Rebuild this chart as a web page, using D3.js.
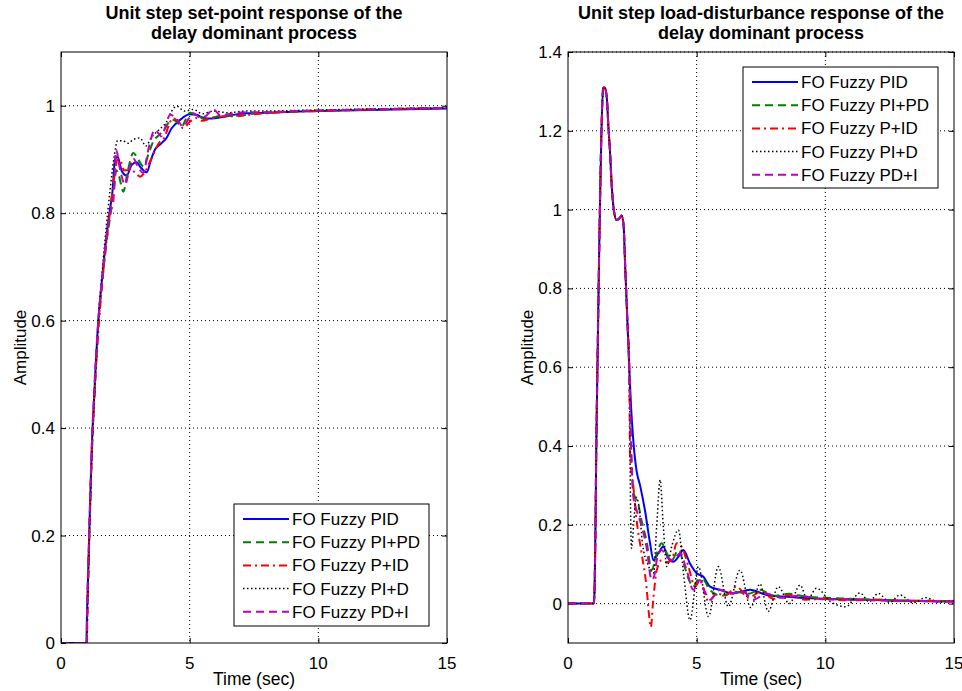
<!DOCTYPE html>

<head>
  <meta charset="utf-8">
  <title>Delay dominant process responses</title>
  <style>
    body {
      margin: 0;
      background: #fff;
    }

    text {
      font-family: "Liberation Sans", Arial, sans-serif;
      fill: #000;
    }
  </style>
</head>

<body>
  <div id="viz"></div>

  <script src="https://d3js.org/d3.v7.min.js"></script>

  <script>
    // legend names
    let seriesNames = ['FO Fuzzy PID', 'FO Fuzzy PI+PD', 'FO Fuzzy P+ID', 'FO Fuzzy PI+D', 'FO Fuzzy PD+I'];

    let xTicks = [0, 5, 10, 15];
    let yTicksLeft = [0, 0.2, 0.4, 0.6, 0.8, 1];
    let yTicksRight = [0, 0.2, 0.4, 0.6, 0.8, 1, 1.2, 1.4];

    // set-point response, [time, amplitude]
    let spPID = [[0, 0], [0.99, 0], [1.0, 0.03], [1.05, 0.12], [1.1, 0.21], [1.2, 0.37], [1.3, 0.47], [1.45, 0.6], [1.6, 0.68], [1.75, 0.75], [1.88, 0.8], [2.0, 0.84], [2.1, 0.9], [2.2, 0.905], [2.35, 0.88], [2.55, 0.87], [2.75, 0.89], [2.94, 0.895], [3.1, 0.885], [3.33, 0.876], [3.5, 0.9], [3.65, 0.918], [3.9, 0.93], [4.1, 0.94], [4.3, 0.958], [4.45, 0.966], [4.74, 0.978], [5.0, 0.984], [5.27, 0.983], [5.5, 0.978], [5.7, 0.976], [6.05, 0.977], [6.4, 0.98], [6.7, 0.983], [7.2, 0.986], [8, 0.987], [9, 0.989], [10, 0.99], [11, 0.991], [12, 0.992], [13, 0.993], [14, 0.994], [15, 0.995]];
    let spPIPD = [[0, 0], [1.0, 0], [1.02, 0.05], [1.08, 0.16], [1.2, 0.35], [1.3, 0.46], [1.45, 0.59], [1.6, 0.67], [1.75, 0.74], [1.9, 0.79], [2.05, 0.84], [2.15, 0.88], [2.25, 0.87], [2.42, 0.84], [2.6, 0.88], [2.81, 0.912], [3.0, 0.9], [3.2, 0.887], [3.4, 0.91], [3.59, 0.934], [3.8, 0.945], [4.0, 0.955], [4.3, 0.974], [4.5, 0.97], [4.69, 0.961], [4.85, 0.975], [5.01, 0.987], [5.3, 0.982], [5.6, 0.975], [5.9, 0.978], [6.3, 0.982], [6.8, 0.98], [7.3, 0.984], [8, 0.987], [9, 0.989], [10, 0.991], [12, 0.993], [15, 0.996]];
    let spPID2 = [[0, 0], [1.0, 0], [1.03, 0.06], [1.1, 0.2], [1.2, 0.36], [1.3, 0.46], [1.45, 0.58], [1.6, 0.67], [1.75, 0.74], [1.9, 0.8], [2.05, 0.86], [2.2, 0.9], [2.29, 0.9], [2.45, 0.88], [2.7, 0.88], [2.9, 0.875], [3.07, 0.868], [3.3, 0.88], [3.5, 0.9], [3.8, 0.93], [4.04, 0.943], [4.2, 0.965], [4.36, 0.977], [4.55, 0.97], [4.75, 0.958], [5.0, 0.97], [5.27, 0.977], [5.5, 0.972], [5.8, 0.976], [6.2, 0.98], [7, 0.982], [8, 0.986], [9, 0.989], [10, 0.99], [12, 0.993], [15, 0.996]];
    let spPID3 = [[0, 0], [1.0, 0], [1.04, 0.08], [1.1, 0.19], [1.2, 0.35], [1.3, 0.46], [1.45, 0.6], [1.6, 0.69], [1.75, 0.77], [1.9, 0.84], [2.05, 0.9], [2.2, 0.935], [2.4, 0.935], [2.6, 0.93], [2.81, 0.937], [3.07, 0.94], [3.3, 0.925], [3.5, 0.94], [3.8, 0.955], [4.1, 0.97], [4.3, 0.99], [4.5, 0.999], [4.8, 0.99], [5.14, 0.993], [5.5, 0.985], [5.9, 0.99], [6.5, 0.987], [7.2, 0.99], [8, 0.99], [9, 0.991], [10, 0.992], [12, 0.994], [15, 0.996]];
    let spPDI = [[0, 0], [1.0, 0], [1.01, 0.04], [1.08, 0.18], [1.2, 0.37], [1.3, 0.48], [1.45, 0.6], [1.6, 0.68], [1.75, 0.75], [1.9, 0.8], [2.03, 0.82], [2.14, 0.918], [2.3, 0.88], [2.49, 0.853], [2.65, 0.88], [2.81, 0.902], [3.0, 0.885], [3.2, 0.875], [3.4, 0.92], [3.65, 0.955], [3.91, 0.943], [4.05, 0.96], [4.24, 0.983], [4.5, 0.975], [4.75, 0.961], [4.95, 0.975], [5.14, 0.986], [5.4, 0.978], [5.6, 0.98], [5.92, 0.993], [6.2, 0.982], [6.6, 0.985], [7.2, 0.988], [8, 0.988], [9, 0.99], [10, 0.991], [12, 0.993], [15, 0.996]];

    // load-disturbance response, shared start up to the fast drop
    let ldHead = [[0, 0], [1.0, 0], [1.03, 0.03], [1.06, 0.15], [1.1, 0.4], [1.16, 0.67], [1.22, 0.93], [1.3, 1.2], [1.37, 1.31], [1.42, 1.31], [1.5, 1.29], [1.57, 1.21], [1.63, 1.15], [1.7, 1.06], [1.78, 1.0], [1.88, 0.974], [2.0, 0.978], [2.08, 0.985], [2.16, 0.96], [2.22, 0.86], [2.3, 0.73], [2.38, 0.6]];
    let ldPID = [[2.45, 0.5], [2.53, 0.42], [2.6, 0.37], [2.67, 0.335], [2.8, 0.3], [2.99, 0.237], [3.19, 0.153], [3.32, 0.11], [3.51, 0.128], [3.7, 0.144], [3.9, 0.115], [4.09, 0.106], [4.3, 0.12], [4.48, 0.136], [4.74, 0.102], [5.0, 0.077], [5.26, 0.068], [5.52, 0.043], [5.9, 0.035], [6.42, 0.026], [7.07, 0.035], [7.72, 0.022], [8.36, 0.018], [9, 0.015], [10, 0.012], [11, 0.01], [12, 0.009], [13, 0.007], [14, 0.006], [15, 0.005]];
    let ldPIPD = [[2.45, 0.4], [2.52, 0.3], [2.6, 0.27], [2.7, 0.26], [2.86, 0.21], [3.05, 0.16], [3.25, 0.085], [3.45, 0.128], [3.64, 0.153], [3.84, 0.128], [4.03, 0.11], [4.29, 0.136], [4.5, 0.1], [4.7, 0.06], [4.87, 0.043], [5.06, 0.06], [5.26, 0.06], [5.5, 0.035], [5.97, 0.02], [6.5, 0.03], [7.0, 0.025], [7.46, 0.035], [8, 0.02], [8.6, 0.025], [9.2, 0.018], [10, 0.015], [11, 0.012], [12, 0.01], [13, 0.008], [14, 0.007], [15, 0.006]];
    let ldPID2 = [[2.41, 0.38], [2.54, 0.297], [2.67, 0.21], [2.86, 0.128], [3.05, 0.043], [3.15, -0.03], [3.22, -0.06], [3.3, 0.0], [3.45, 0.085], [3.64, 0.11], [3.84, 0.105], [4.03, 0.11], [4.22, 0.153], [4.42, 0.144], [4.68, 0.094], [4.94, 0.043], [5.13, 0.06], [5.3, 0.03], [5.46, 0.005], [5.78, 0.026], [6.1, 0.02], [6.55, 0.043], [7.0, 0.015], [7.5, 0.03], [8.0, 0.012], [8.6, 0.022], [9.2, 0.01], [10, 0.012], [11, 0.008], [12, 0.01], [13, 0.006], [14, 0.007], [15, 0.005]];
    let ldPID3 = [[2.42, 0.3], [2.47, 0.14], [2.55, 0.2], [2.65, 0.27], [2.75, 0.25], [2.9, 0.15], [3.1, 0.1], [3.32, 0.077], [3.45, 0.2], [3.58, 0.314], [3.7, 0.2], [3.84, 0.094], [4.05, 0.15], [4.29, 0.187], [4.5, 0.07], [4.74, -0.042], [5.07, 0.094], [5.46, -0.033], [5.84, 0.094], [6.23, -0.008], [6.68, 0.085], [7.1, -0.01], [7.46, 0.05], [7.78, -0.02], [8.17, 0.043], [8.6, 0.0], [9.02, 0.047], [9.3, 0.01], [9.66, 0.039], [10.2, 0.005], [10.8, -0.008], [11.35, 0.027], [11.7, 0.005], [12.06, 0.026], [12.5, 0.003], [12.9, 0.022], [13.4, 0.002], [13.9, 0.015], [14.4, 0.004], [15, 0.008]];
    let ldPDI = [[2.45, 0.4], [2.54, 0.27], [2.65, 0.24], [2.8, 0.21], [3.05, 0.144], [3.25, 0.06], [3.35, 0.07], [3.45, 0.11], [3.64, 0.136], [3.84, 0.119], [4.09, 0.11], [4.35, 0.128], [4.61, 0.085], [4.87, 0.035], [5.13, 0.06], [5.32, 0.03], [5.52, 0.01], [5.9, 0.035], [6.3, 0.025], [6.8, 0.03], [7.2, 0.01], [7.7, 0.025], [8.3, 0.015], [9, 0.02], [10, 0.01], [11, 0.012], [12, 0.008], [13, 0.008], [14, 0.006], [15, 0.005]];

    // line styles, in the order they are plotted
    let styles = [
      { color: '#0000ff', dash: null, width: 2 },
      { color: '#008000', dash: '8,5', width: 2 },
      { color: '#ff0000', dash: '8,4,2,4', width: 2 },
      { color: '#000000', dash: '1.5,2.5', width: 1.5 },
      { color: '#bf00bf', dash: '8,5', width: 2 }
    ];

    let svg = d3.select('#viz')
      .append('svg')
      .attr('width', 962)
      .attr('height', 691);

    let panels = [
      {
        title: ['Unit step set-point response of the', 'delay dominant process'],
        left: 61, right: 447, top: 52, bottom: 643,
        yDomain: [0, 1.1], yTicks: yTicksLeft,
        series: [spPID, spPIPD, spPID2, spPID3, spPDI],
        legend: { x: 234, y: 504, w: 195, h: 122 }
      },
      {
        title: ['Unit step load-disturbance response of the', 'delay dominant process'],
        left: 568, right: 954, top: 52, bottom: 643,
        yDomain: [-0.1, 1.4], yTicks: yTicksRight,
        series: [ldHead.concat(ldPID), ldHead.concat(ldPIPD), ldHead.concat(ldPID2), ldHead.concat(ldPID3), ldHead.concat(ldPDI)],
        legend: { x: 743, y: 67, w: 195, h: 121 }
      }
    ];

    panels.forEach((p, pi) => {
      let x = d3.scaleLinear().domain([0, 15]).range([p.left, p.right]);
      let y = d3.scaleLinear().domain(p.yDomain).range([p.bottom, p.top]);
      let g = svg.append('g');
      let clipId = 'clip' + pi;

      svg.append('clipPath')
        .attr('id', clipId)
        .append('rect')
        .attr('x', p.left)
        .attr('y', p.top)
        .attr('width', p.right - p.left)
        .attr('height', p.bottom - p.top);

      //grid
      g.selectAll('.vgrid')
        .data(xTicks.slice(1, -1))
        .join('line')
        .attr('x1', d => x(d)).attr('x2', d => x(d))
        .attr('y1', p.top).attr('y2', p.bottom)
        .attr('stroke', '#000')
        .attr('stroke-width', 1)
        .attr('stroke-dasharray', '1,3');

      g.selectAll('.hgrid')
        .data(p.yTicks.filter(d => y(d) < p.bottom - 1))
        .join('line')
        .attr('x1', p.left).attr('x2', p.right)
        .attr('y1', d => y(d)).attr('y2', d => y(d))
        .attr('stroke', '#000')
        .attr('stroke-width', 1)
        .attr('stroke-dasharray', '1,3');

      //axes, ticks inside on all four sides
      g.append('g')
        .attr('transform', `translate(0, ${p.bottom})`)
        .call(d3.axisTop(x).tickValues(xTicks).tickSize(5).tickFormat(''));
      g.append('g')
        .attr('transform', `translate(0, ${p.top})`)
        .call(d3.axisBottom(x).tickValues(xTicks).tickSize(5).tickFormat(''));
      g.append('g')
        .attr('transform', `translate(${p.left}, 0)`)
        .call(d3.axisRight(y).tickValues(p.yTicks).tickSize(5).tickFormat(''));
      g.append('g')
        .attr('transform', `translate(${p.right}, 0)`)
        .call(d3.axisLeft(y).tickValues(p.yTicks).tickSize(5).tickFormat(''));
      g.selectAll('.domain').remove();
      g.selectAll('.tick line').attr('stroke', '#000');

      //tick labels
      g.selectAll('.xlab')
        .data(xTicks)
        .join('text')
        .attr('x', d => x(d))
        .attr('y', p.bottom + 26)
        .attr('text-anchor', 'middle')
        .style('font-size', '17px')
        .text(d => d);

      g.selectAll('.ylab')
        .data(p.yTicks)
        .join('text')
        .attr('x', p.left - 6)
        .attr('y', d => y(d) + 6)
        .attr('text-anchor', 'end')
        .style('font-size', '17px')
        .text(d => d);

      //lines
      let line = d3.line()
        .x(d => x(d[0]))
        .y(d => y(d[1]))
        .curve(d3.curveMonotoneX);

      g.append('g')
        .attr('clip-path', `url(#${clipId})`)
        .selectAll('path')
        .data(p.series)
        .join('path')
        .attr('d', d => line(d))
        .attr('fill', 'none')
        .attr('stroke', (d, i) => styles[i].color)
        .attr('stroke-width', (d, i) => styles[i].width)
        .attr('stroke-dasharray', (d, i) => styles[i].dash);

      //box
      g.append('rect')
        .attr('x', p.left)
        .attr('y', p.top)
        .attr('width', p.right - p.left)
        .attr('height', p.bottom - p.top)
        .attr('fill', 'none')
        .attr('stroke', '#000')
        .attr('stroke-width', 1);

      //titles
      g.selectAll('.title')
        .data(p.title)
        .join('text')
        .attr('x', (p.left + p.right) / 2)
        .attr('y', (d, i) => 19 + i * 20)
        .attr('text-anchor', 'middle')
        .style('font-size', '18px')
        .style('font-weight', 'bold')
        .text(d => d);

      g.append('text')
        .attr('x', (p.left + p.right) / 2)
        .attr('y', p.bottom + 42)
        .attr('text-anchor', 'middle')
        .style('font-size', '17.5px')
        .text('Time (sec)');

      g.append('text')
        .attr('transform', `translate(${p.left - 35}, ${(p.top + p.bottom) / 2}) rotate(-90)`)
        .attr('text-anchor', 'middle')
        .style('font-size', '17px')
        .text('Amplitude');

      //legend
      let lg = p.legend;
      g.append('rect')
        .attr('x', lg.x)
        .attr('y', lg.y)
        .attr('width', lg.w)
        .attr('height', lg.h)
        .attr('fill', '#fff')
        .attr('stroke', '#000')
        .attr('stroke-width', 1);

      let rows = g.selectAll('.legend-row')
        .data(seriesNames)
        .join('g')
        .attr('transform', (d, i) => `translate(${lg.x}, ${lg.y + 15 + i * 23.2})`);

      rows.append('line')
        .attr('x1', 9).attr('x2', 55)
        .attr('y1', 0).attr('y2', 0)
        .attr('stroke', (d, i) => styles[i].color)
        .attr('stroke-width', (d, i) => styles[i].width)
        .attr('stroke-dasharray', (d, i) => styles[i].dash);

      rows.append('text')
        .attr('x', 58)
        .attr('y', 6)
        .style('font-size', '17px')
        .text(d => d);
    });
  </script>
</body>

</html>
